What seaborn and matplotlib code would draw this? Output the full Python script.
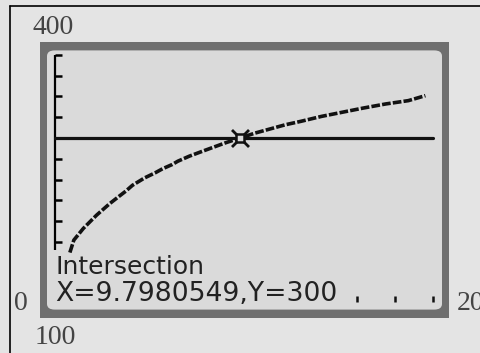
import numpy as np
import pandas as pd
import matplotlib.pyplot as plt
import seaborn as sns
from matplotlib.patches import FancyBboxPatch
from matplotlib.lines import Line2D

# 数据
curve_x = [0.79, 1.0, 1.5, 1.85, 2.2, 2.55, 2.9, 3.35, 3.75, 4.1, 4.75, 5.3, 5.7, 6.2, 6.5,
           7.1, 7.8, 8.4, 9.0, 9.8, 10.6, 11.4, 12.2, 13.0, 14.1, 15.2, 16.3, 17.5, 18.7, 19.6]
curve_y = [162, 177, 191, 199, 207, 214, 221, 229, 236, 243, 252, 258, 263, 268, 272,
           278, 284, 289, 294, 300, 306, 311, 316, 320, 326, 331, 336, 341, 345, 351]
level_x = [0, 20]
level_y = [300, 300]
ytick_vals = [175, 200, 225, 250, 275, 300, 325, 350, 375, 400]
dot_x = [16, 18, 20]
dot_y = [106, 106, 106]
inter_x, inter_y = 9.7980549, 300
xmin_label, xmax_label = '0', '20'
ymin_label, ymax_label = '100', '400'

sns.set_theme(style='white')
plt.rcParams['font.family'] = ['DejaVu Sans']

outer_bg = '#e4e4e4'
screen_bg = '#dadada'
bezel = '#6f6f6f'

W, H = 481, 353
fig = plt.figure(figsize=(W / 100, H / 100), dpi=100, facecolor=outer_bg)

def fx(px):
    return px / W

def fy(py):
    return 1 - py / H

# 外框线（顶部和左侧）
fig.add_artist(Line2D([fx(10), 1], [fy(6), fy(6)], color='black', lw=1.2, zorder=-2))
fig.add_artist(Line2D([fx(10), fx(10)], [fy(6), 0], color='black', lw=1.2, zorder=-2))

# 屏幕边框
fig.add_artist(FancyBboxPatch((fx(40), fy(318)), fx(409), 276 / H,
                              boxstyle='square,pad=0', fc=bezel, ec='none', zorder=-2))
fig.add_artist(FancyBboxPatch((fx(47) + 0.012, fy(311) + 0.016), fx(395) - 0.024, 262 / H - 0.032,
                              boxstyle='round,pad=0.012,rounding_size=0.016',
                              fc=screen_bg, ec='none', zorder=-1))

ax = fig.add_axes([fx(47), fy(311), fx(395), 262 / H])
ax.set_zorder(2)
ax.set_facecolor('none')
for s in ax.spines.values():
    s.set_visible(False)

# y 轴及刻度
ax.plot([0, 0], [165, 400], color='black', lw=1.6, solid_capstyle='butt')
for v in ytick_vals:
    ax.plot([0, 0.37], [v, v], color='black', lw=1.8, solid_capstyle='butt')

# 水平线 y=300
sns.lineplot(x=level_x, y=level_y, ax=ax, color='#111111', lw=2.3)

# 曲线（像素风格虚线）
df = pd.DataFrame({'x': curve_x, 'y': curve_y})
sns.lineplot(data=df, x='x', y='y', ax=ax, color='#111111', lw=2.6, sort=False)
ax.lines[-1].set_dashes([2.4, 0.6])
ax.lines[-1].set_dash_capstyle('butt')

# 底部小点
sns.scatterplot(x=dot_x, y=dot_y, ax=ax, marker='|', s=18, color='#111111', linewidth=1.8)

# 交点光标
ax.scatter([inter_x], [inter_y], marker='x', s=150, color='#111111', linewidths=2, zorder=5)
ax.scatter([inter_x], [inter_y], marker='s', s=34, facecolor=screen_bg, edgecolor='#111111',
           linewidths=1.8, zorder=6)

ax.set_xlim(-0.42, 20.48)
ax.set_ylim(91.6, 407.2)
ax.set_xticks([])
ax.set_yticks([])
ax.set_xlabel('')
ax.set_ylabel('')

# 屏幕文字
fig.text(fx(55), fy(267), 'Intersection', fontsize=18, color='#222222', va='center', ha='left', zorder=3)
fig.text(fx(55), fy(294), 'X=9.7980549,Y=300', fontsize=19.2, color='#222222', va='center', ha='left', zorder=3)

# 窗口范围标签
serif = ['Liberation Serif', 'DejaVu Serif']
fig.text(fx(53), fy(27), ymax_label, fontsize=20, family=serif, color='#444444', ha='center', va='center')
fig.text(fx(55), fy(338), ymin_label, fontsize=20, family=serif, color='#444444', ha='center', va='center')
fig.text(fx(21), fy(304), xmin_label, fontsize=20, family=serif, color='#444444', ha='center', va='center')
fig.text(fx(457), fy(304), xmax_label, fontsize=20, family=serif, color='#444444', ha='left', va='center')

fig.savefig('out.png', dpi=100, facecolor=outer_bg)
